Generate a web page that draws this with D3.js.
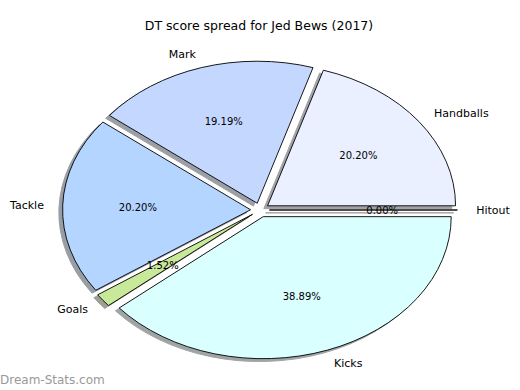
<!DOCTYPE html>
<html>
<head>
<meta charset="utf-8">
<script src="https://cdn.jsdelivr.net/npm/d3@7"></script>
<style>
  body { margin: 0; background: #fff; }
  text { font-family: "DejaVu Sans", sans-serif; }
</style>
</head>
<body>
<div id="chart"></div>
<script>
const WIDTH = 520;
const HEIGHT = 390;

// DT score by stat type
const categories = ['Hitout', 'Handballs', 'Mark', 'Tackle', 'Goals', 'Kicks'];
const scores = [0, 40, 38, 40, 3, 77];
const colors = ['#ffe0e0', '#eaf0ff', '#c4d8ff', '#b3d5ff', '#c8e89a', '#d9ffff'];

const title = 'DT score spread for Jed Bews (2017)';

const explode = 0.05;
const cx = 260, cy = 210;
const rx = 188, ry = 142;

const svg = d3.select('#chart')
  .append('svg')
  .attr('width', WIDTH)
  .attr('height', HEIGHT);

// data coords like matplotlib, radius 1
const x = d3.scaleLinear().domain([-1, 1]).range([cx - rx, cx + rx]);
const y = d3.scaleLinear().domain([-1, 1]).range([cy + ry, cy - ry]);

const total = d3.sum(scores);

// angles counter-clockwise from east
const pie = d3.pie().sort(null).startAngle(0).endAngle(2 * Math.PI);
const arcs = pie(scores).map((a, i) => {
  const mid = (a.startAngle + a.endAngle) / 2;
  return {
    name: categories[i],
    value: a.value,
    color: colors[i],
    a0: a.startAngle,
    a1: a.endAngle,
    mid: mid,
    ox: explode * Math.cos(mid),
    oy: explode * Math.sin(mid)
  };
});

function wedgePath(d, dx, dy) {
  const c0 = [x(d.ox + dx), y(d.oy + dy)];
  const p0 = [x(d.ox + dx + Math.cos(d.a0)), y(d.oy + dy + Math.sin(d.a0))];
  const p1 = [x(d.ox + dx + Math.cos(d.a1)), y(d.oy + dy + Math.sin(d.a1))];
  const large = (d.a1 - d.a0) > Math.PI ? 1 : 0;
  if (d.a1 - d.a0 <= 0) return `M${c0}L${p0}Z`;
  return `M${c0}L${p0}A${rx},${ry} 0 ${large} 0 ${p1}Z`;
}

function shade(c) {
  c = d3.rgb(c);
  return d3.rgb(c.r * 0.3, c.g * 0.3, c.b * 0.3);
}

// shadows
svg.append('g').selectAll('path')
  .data(arcs)
  .enter()
  .append('path')
  .attr('d', d => wedgePath(d, -0.02, -0.02))
  .attr('fill', d => shade(d.color))
  .attr('stroke', d => shade(d.color))
  .attr('stroke-width', 1)
  .attr('opacity', 0.5);

// wedges
svg.append('g').selectAll('path')
  .data(arcs)
  .enter()
  .append('path')
  .attr('d', d => wedgePath(d, 0, 0))
  .attr('fill', d => d.color)
  .attr('stroke', '#000')
  .attr('stroke-width', 0.9);

// labels
svg.append('g').selectAll('text')
  .data(arcs)
  .enter()
  .append('text')
  .attr('x', d => x(d.ox + 1.1 * Math.cos(d.mid)))
  .attr('y', d => y(d.oy + 1.1 * Math.sin(d.mid)))
  .attr('dy', '0.35em')
  .attr('text-anchor', d => Math.cos(d.mid) > 0 ? 'start' : 'end')
  .attr('font-size', '11px')
  .attr('fill', '#000')
  .text(d => d.name);

// percentages
svg.append('g').selectAll('text')
  .data(arcs)
  .enter()
  .append('text')
  .attr('x', d => x(d.ox + 0.6 * Math.cos(d.mid)))
  .attr('y', d => y(d.oy + 0.6 * Math.sin(d.mid)))
  .attr('dy', '0.35em')
  .attr('text-anchor', 'middle')
  .attr('font-size', '10px')
  .attr('fill', '#000')
  .text(d => (d.value / total * 100).toFixed(2) + '%');

svg.append('text')
  .attr('x', 259)
  .attr('y', 30)
  .attr('text-anchor', 'middle')
  .attr('font-size', '12.5px')
  .text(title);

// watermark
svg.append('text')
  .attr('x', 0)
  .attr('y', 384)
  .attr('font-size', '12px')
  .attr('fill', '#999')
  .text('Dream-Stats.com');
</script>
</body>
</html>
